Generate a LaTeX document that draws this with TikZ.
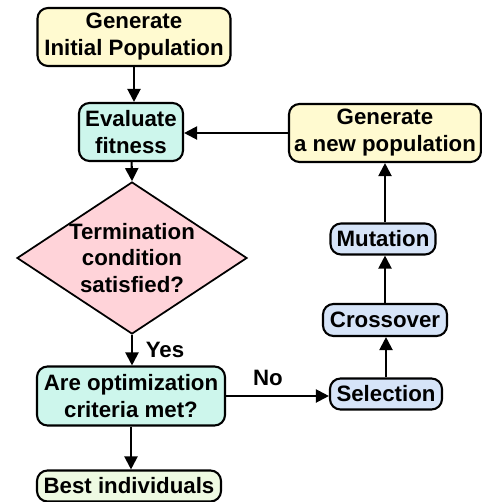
\documentclass[tikz,border=0pt]{standalone}
\usepackage{fontspec}
\setmainfont{Liberation Sans}
\usetikzlibrary{arrows.meta,positioning,shapes.geometric}
\definecolor{sand}{RGB}{255,250,208}
\definecolor{mint}{RGB}{205,246,236}
\definecolor{rose}{RGB}{255,211,217}
\definecolor{sky}{RGB}{214,228,248}
\definecolor{pale}{RGB}{238,250,226}
\tikzset{
  >={Triangle[length=3.9mm,width=3.9mm]},
  box/.style={draw=black,fill=#1,rounded corners=9pt,line width=1.8pt,
    inner sep=0pt,align=center,font=\bfseries\fontsize{19}{23}\selectfont},
  box/.default=sand,
  decision/.style={diamond,draw=black,fill=rose,line width=1.5pt,inner sep=-4pt,
    aspect=1.51,minimum width=6.9cm,minimum height=4.56cm,align=center,
    font=\bfseries\fontsize{19}{23}\selectfont},
  flow/.style={->,line width=1.8pt},
  tag/.style={font=\bfseries\fontsize{19}{23}\selectfont},
}
\begin{document}
\begin{tikzpicture}[x=0.03cm,y=-0.03cm]
  \useasboundingbox (0,0) rectangle (482,502);
  % left column
  \node[box=sand,minimum width=5.79cm,minimum height=1.74cm] (init) at (134,37) {Generate\\Initial Population};
  \node[box=mint,minimum width=3.12cm,minimum height=1.74cm] (eval) at (131,132) {Evaluate\\fitness};
  \node[decision] (term) at (132,258) {Termination\\condition\\satisfied?};
  \node[box=mint,minimum width=5.64cm,minimum height=1.77cm] (opt) at (131,396) {Are optimization\\criteria met?};
  \node[box=pale,minimum width=5.52cm,minimum height=0.93cm] (best) at (129,486) {Best individuals};
  % right column
  \node[box=sand,minimum width=5.76cm,minimum height=1.74cm] (newpop) at (385,133) {Generate\\a new population};
  \node[box=sky,minimum width=3.15cm,minimum height=0.93cm] (mut) at (383,239) {Mutation};
  \node[box=sky,minimum width=3.72cm,minimum height=0.96cm] (cross) at (385,320) {Crossover};
  \node[box=sky,minimum width=3.36cm,minimum height=0.93cm] (sel) at (386,394) {Selection};
  % connectors
  \draw[flow] (init.south) -- (init.south |- eval.north);
  \draw[flow] (eval) -- (term.north);
  \draw[flow] (newpop.west) -- (newpop.west -| eval.east);
  \draw[flow] (term.south) -- (term.south |- opt.north);
  \node[tag] (yes) at (165,350) {Yes};
  \draw[flow] (opt.east) -- (opt.east -| sel.west);
  \node[tag] (no) at (268,378) {No};
  \draw[flow] (opt.south) -- (opt.south |- best.north);
  \draw[flow] (sel.north) -- (sel.north |- cross.south);
  \draw[flow] (cross.north) -- (cross.north |- mut.south);
  \draw[flow] (mut.north -| newpop.south) -- (newpop.south);
\end{tikzpicture}
\end{document}
